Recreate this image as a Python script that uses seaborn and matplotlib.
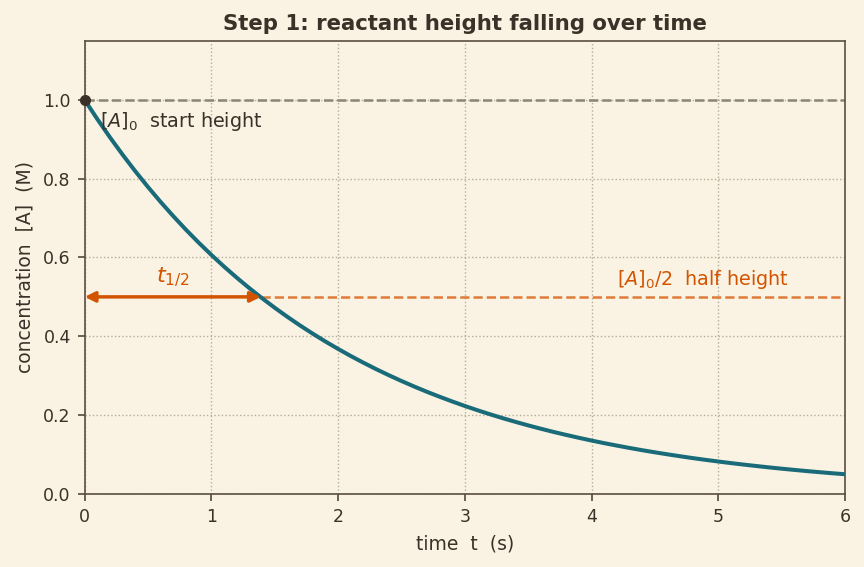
import numpy as np
import pandas as pd
import matplotlib
matplotlib.use("Agg")
import matplotlib.pyplot as plt
import seaborn as sns

time_s = [round(0.1 * i, 1) for i in range(61)]
conc_M = [1.0000, 0.9512, 0.9048, 0.8607, 0.8187, 0.7788, 0.7408, 0.7047, 0.6703, 0.6376,
          0.6065, 0.5769, 0.5488, 0.5220, 0.4966, 0.4724, 0.4493, 0.4274, 0.4066, 0.3867,
          0.3679, 0.3499, 0.3329, 0.3166, 0.3012, 0.2865, 0.2725, 0.2592, 0.2466, 0.2346,
          0.2231, 0.2122, 0.2019, 0.1920, 0.1827, 0.1738, 0.1653, 0.1572, 0.1496, 0.1423,
          0.1353, 0.1287, 0.1225, 0.1165, 0.1108, 0.1054, 0.1003, 0.0954, 0.0907, 0.0863,
          0.0821, 0.0781, 0.0743, 0.0707, 0.0672, 0.0639, 0.0608, 0.0578, 0.0550, 0.0523,
          0.0498]
start_conc = 1.0
half_conc = 0.5
half_life = 1.39

bg = "#faf3e3"
ink = "#3a3128"
teal = "#1a6b7a"
orange = "#d35400"

sns.set_theme(style="ticks")
plt.rcParams["font.family"] = ["DejaVu Sans"]
plt.rcParams["mathtext.fontset"] = "dejavusans"

fig = plt.figure(figsize=(8.64, 5.67), dpi=100, facecolor=bg)
ax = fig.add_axes([0.098, 0.129, 0.88, 0.799])
ax.set_facecolor(bg)

df = pd.DataFrame({"t": time_s, "A": conc_M})
sns.lineplot(data=df, x="t", y="A", ax=ax, color=teal, linewidth=2.9, zorder=3)

ax.axhline(start_conc, color="#8a8578", ls="--", lw=1.8, zorder=2)
ax.hlines(half_conc, half_life, 6, color="#e07b39", ls="--", lw=1.8, zorder=2)
ax.annotate("", xy=(0.0, half_conc), xytext=(half_life, half_conc),
            arrowprops=dict(arrowstyle="<|-|>", color=orange, lw=2.5,
                            mutation_scale=15, shrinkA=0, shrinkB=0), zorder=4)
ax.plot([0], [start_conc], "o", color=ink, ms=7, clip_on=False, zorder=5)

ax.text(0.56, 0.537, r"$t_{1/2}$", color=orange, fontsize=16)
ax.text(0.12, 0.932, r"$[A]_0$  start height", color=ink, fontsize=13.8)
ax.text(4.2, 0.53, r"$[A]_0/2$  half height", color=orange, fontsize=13.8)

ax.set_xlim(0, 6)
ax.set_ylim(0, 1.15)
ax.set_xticks([0, 1, 2, 3, 4, 5, 6])
ax.set_yticks([0.0, 0.2, 0.4, 0.6, 0.8, 1.0])
ax.set_yticklabels(["0.0", "0.2", "0.4", "0.6", "0.8", "1.0"])
ax.grid(True, ls=":", color="#b5ab9a", lw=1)
for s in ax.spines.values():
    s.set_color("#5a4e40")
    s.set_linewidth(1.2)
ax.tick_params(colors=ink, labelsize=12.5, length=5, pad=5, color="#5a4e40")
ax.set_xlabel("time  t  (s)", color=ink, fontsize=13.5, labelpad=6)
ax.set_ylabel("concentration  [A]  (M)", color=ink, fontsize=13.5, labelpad=6)
ax.set_title("Step 1: reactant height falling over time", color=ink,
             fontsize=15.3, fontweight="bold", pad=8)

fig.savefig("out.png", dpi=100, facecolor=bg)
